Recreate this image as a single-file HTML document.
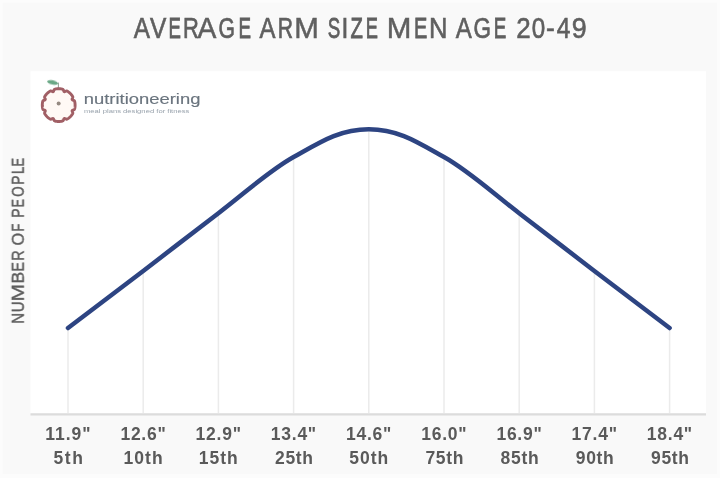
<!DOCTYPE html>
<html><head><meta charset="utf-8"><style>
html,body{margin:0;padding:0;width:720px;height:478px;overflow:hidden;background:#fcfcfc}
svg{display:block}
text{font-family:"Liberation Sans",sans-serif}
</style></head><body>
<svg width="720" height="478" viewBox="0 0 720 478">
<defs><filter id="bl" x="-20%" y="-20%" width="140%" height="140%"><feGaussianBlur stdDeviation="0.45"/></filter><filter id="tb" x="-5%" y="-20%" width="110%" height="140%"><feGaussianBlur stdDeviation="0.35"/></filter></defs>
<rect x="0" y="0" width="720" height="478" fill="#fcfcfc"/>
<rect x="2.5" y="2.5" width="714.5" height="471.5" fill="#f9f9f9"/>
<rect x="30.5" y="71.2" width="675.5" height="342.1" fill="#ffffff"/>
<g stroke="#ebebeb" stroke-width="1.5"><line x1="68.0" y1="328.0" x2="68.0" y2="413" /><line x1="143.2" y1="271.0" x2="143.2" y2="413" /><line x1="218.4" y1="213.2" x2="218.4" y2="413" /><line x1="293.6" y1="157.1" x2="293.6" y2="413" /><line x1="368.8" y1="129.2" x2="368.8" y2="413" /><line x1="444.0" y1="157.1" x2="444.0" y2="413" /><line x1="519.2" y1="213.2" x2="519.2" y2="413" /><line x1="594.4" y1="271.0" x2="594.4" y2="413" /><line x1="669.6" y1="328.0" x2="669.6" y2="413" /></g>
<line x1="30.5" y1="414.3" x2="706" y2="414.3" stroke="#dcdcdc" stroke-width="2.2"/>
<path d="M68.00,328.00 C80.53,318.50 118.13,290.13 143.20,271.00 C168.27,251.87 193.33,232.19 218.40,213.20 C243.47,194.21 268.53,171.05 293.60,157.05 C318.67,143.05 338.72,129.20 368.80,129.20 C398.88,129.20 418.93,143.05 444.00,157.05 C469.07,171.05 494.13,194.21 519.20,213.20 C544.27,232.19 569.33,251.87 594.40,271.00 C619.47,290.13 657.07,318.50 669.60,328.00" fill="none" stroke="#2d4482" stroke-width="4.5" stroke-linecap="round"/>
<g fill="#5f5f5f" color="#5f5f5f" filter="url(#tb)"><text transform="matrix(0.8400,0,0,1,133.800,0)" x="0" y="37.7" font-size="29" stroke="currentColor" stroke-width="0.644">A</text><text transform="matrix(0.8450,0,0,1,150.000,0)" x="0" y="37.7" font-size="29" stroke="currentColor" stroke-width="0.639">V</text><text transform="matrix(0.6412,0,0,1,168.618,0)" x="0" y="37.7" font-size="29" stroke="currentColor" stroke-width="0.823">E</text><text transform="matrix(0.7556,0,0,1,183.089,0)" x="0" y="37.7" font-size="29" stroke="currentColor" stroke-width="0.720">R</text><text transform="matrix(0.9750,0,0,1,197.400,0)" x="0" y="37.7" font-size="29" stroke="currentColor" stroke-width="0.522">A</text><text transform="matrix(0.7300,0,0,1,218.570,0)" x="0" y="37.7" font-size="29" stroke="currentColor" stroke-width="0.743">G</text><text transform="matrix(0.6471,0,0,1,238.506,0)" x="0" y="37.7" font-size="29" stroke="currentColor" stroke-width="0.818">E</text><text transform="matrix(0.8250,0,0,1,259.400,0)" x="0" y="37.7" font-size="29" stroke="currentColor" stroke-width="0.658">A</text><text transform="matrix(0.7278,0,0,1,277.844,0)" x="0" y="37.7" font-size="29" stroke="currentColor" stroke-width="0.745">R</text><text transform="matrix(1.0190,0,0,1,294.262,0)" x="0" y="37.7" font-size="29" stroke="currentColor" stroke-width="0.483">M</text><text transform="matrix(0.6444,0,0,1,327.656,0)" x="0" y="37.7" font-size="29" stroke="currentColor" stroke-width="0.820">S</text><text transform="matrix(0.8500,0,0,1,341.600,0)" x="0" y="37.7" font-size="29" stroke="currentColor" stroke-width="0.635">I</text><text transform="matrix(0.7000,0,0,1,350.600,0)" x="0" y="37.7" font-size="29" stroke="currentColor" stroke-width="0.770">Z</text><text transform="matrix(0.6294,0,0,1,365.841,0)" x="0" y="37.7" font-size="29" stroke="currentColor" stroke-width="0.834">E</text><text transform="matrix(1.0190,0,0,1,386.862,0)" x="0" y="37.7" font-size="29" stroke="currentColor" stroke-width="0.483">M</text><text transform="matrix(0.6882,0,0,1,414.124,0)" x="0" y="37.7" font-size="29" stroke="currentColor" stroke-width="0.781">E</text><text transform="matrix(0.8824,0,0,1,428.935,0)" x="0" y="37.7" font-size="29" stroke="currentColor" stroke-width="0.606">N</text><text transform="matrix(0.8300,0,0,1,455.800,0)" x="0" y="37.7" font-size="29" stroke="currentColor" stroke-width="0.653">A</text><text transform="matrix(0.7750,0,0,1,473.525,0)" x="0" y="37.7" font-size="29" stroke="currentColor" stroke-width="0.703">G</text><text transform="matrix(0.6471,0,0,1,493.806,0)" x="0" y="37.7" font-size="29" stroke="currentColor" stroke-width="0.818">E</text><text transform="matrix(0.8929,0,0,1,516.207,0)" x="0" y="37.7" font-size="29" stroke="currentColor" stroke-width="0.596">2</text><text transform="matrix(0.8333,0,0,1,531.867,0)" x="0" y="37.7" font-size="29" stroke="currentColor" stroke-width="0.650">0</text><text transform="matrix(0.9125,0,0,1,545.887,0)" x="0" y="37.7" font-size="29" stroke="currentColor" stroke-width="0.579">-</text><text transform="matrix(0.8438,0,0,1,556.700,0)" x="0" y="37.7" font-size="29" stroke="currentColor" stroke-width="0.641">4</text><text transform="matrix(0.9286,0,0,1,571.871,0)" x="0" y="37.7" font-size="29" stroke="currentColor" stroke-width="0.564">9</text></g>
<g transform="translate(23.8,0) rotate(-90)" fill="#5c5c5c" color="#5c5c5c" filter="url(#tb)"><text transform="matrix(0.9400,0,0,1,-323.640,0)" x="0" y="0" font-size="16" stroke="currentColor" stroke-width="0.430">N</text><text transform="matrix(0.9400,0,0,1,-312.340,0)" x="0" y="0" font-size="16" stroke="currentColor" stroke-width="0.430">U</text><text transform="matrix(1.3083,0,0,1,-301.408,0)" x="0" y="0" font-size="16" stroke="currentColor" stroke-width="0.300">M</text><text transform="matrix(1.1000,0,0,1,-283.600,0)" x="0" y="0" font-size="16" stroke="currentColor" stroke-width="0.350">B</text><text transform="matrix(0.8800,0,0,1,-271.380,0)" x="0" y="0" font-size="16" stroke="currentColor" stroke-width="0.460">E</text><text transform="matrix(0.9000,0,0,1,-260.700,0)" x="0" y="0" font-size="16" stroke="currentColor" stroke-width="0.450">R</text><text transform="matrix(1.0167,0,0,1,-245.400,0)" x="0" y="0" font-size="16" stroke="currentColor" stroke-width="0.392">O</text><text transform="matrix(0.8000,0,0,1,-231.500,0)" x="0" y="0" font-size="16" stroke="currentColor" stroke-width="0.500">F</text><text transform="matrix(0.8778,0,0,1,-217.678,0)" x="0" y="0" font-size="16" stroke="currentColor" stroke-width="0.461">P</text><text transform="matrix(0.7600,0,0,1,-207.160,0)" x="0" y="0" font-size="16" stroke="currentColor" stroke-width="0.520">E</text><text transform="matrix(0.8333,0,0,1,-196.700,0)" x="0" y="0" font-size="16" stroke="currentColor" stroke-width="0.483">O</text><text transform="matrix(0.8667,0,0,1,-184.667,0)" x="0" y="0" font-size="16" stroke="currentColor" stroke-width="0.467">P</text><text transform="matrix(0.8250,0,0,1,-173.925,0)" x="0" y="0" font-size="16" stroke="currentColor" stroke-width="0.488">L</text><text transform="matrix(0.8000,0,0,1,-166.500,0)" x="0" y="0" font-size="16" stroke="currentColor" stroke-width="0.500">E</text></g>
<g fill="#5a5a5a" filter="url(#tb)"><text transform="matrix(1.0,0,0,1,45.200,0)" x="0" y="439.8" font-size="17.5" font-weight="bold" letter-spacing="1.000">11.9&quot;</text><text transform="matrix(1.0,0,0,1,53.600,0)" x="0" y="464" font-size="17.5" font-weight="bold" letter-spacing="1.500">5th</text><text transform="matrix(1.0,0,0,1,120.400,0)" x="0" y="439.8" font-size="17.5" font-weight="bold" letter-spacing="0.750">12.6&quot;</text><text transform="matrix(1.0,0,0,1,123.600,0)" x="0" y="464" font-size="17.5" font-weight="bold" letter-spacing="1.000">10th</text><text transform="matrix(1.0,0,0,1,195.600,0)" x="0" y="439.8" font-size="17.5" font-weight="bold" letter-spacing="0.750">12.9&quot;</text><text transform="matrix(1.0,0,0,1,198.800,0)" x="0" y="464" font-size="17.5" font-weight="bold" letter-spacing="1.000">15th</text><text transform="matrix(1.0,0,0,1,270.800,0)" x="0" y="439.8" font-size="17.5" font-weight="bold" letter-spacing="0.750">13.4&quot;</text><text transform="matrix(1.0,0,0,1,275.000,0)" x="0" y="464" font-size="17.5" font-weight="bold" letter-spacing="0.667">25th</text><text transform="matrix(1.0,0,0,1,346.000,0)" x="0" y="439.8" font-size="17.5" font-weight="bold" letter-spacing="0.750">14.6&quot;</text><text transform="matrix(1.0,0,0,1,349.200,0)" x="0" y="464" font-size="17.5" font-weight="bold" letter-spacing="1.000">50th</text><text transform="matrix(1.0,0,0,1,421.200,0)" x="0" y="439.8" font-size="17.5" font-weight="bold" letter-spacing="0.750">16.0&quot;</text><text transform="matrix(1.0,0,0,1,425.400,0)" x="0" y="464" font-size="17.5" font-weight="bold" letter-spacing="0.667">75th</text><text transform="matrix(1.0,0,0,1,496.400,0)" x="0" y="439.8" font-size="17.5" font-weight="bold" letter-spacing="0.750">16.9&quot;</text><text transform="matrix(1.0,0,0,1,500.600,0)" x="0" y="464" font-size="17.5" font-weight="bold" letter-spacing="0.667">85th</text><text transform="matrix(1.0,0,0,1,571.600,0)" x="0" y="439.8" font-size="17.5" font-weight="bold" letter-spacing="0.750">17.4&quot;</text><text transform="matrix(1.0,0,0,1,575.800,0)" x="0" y="464" font-size="17.5" font-weight="bold" letter-spacing="0.667">90th</text><text transform="matrix(1.0,0,0,1,646.800,0)" x="0" y="439.8" font-size="17.5" font-weight="bold" letter-spacing="0.750">18.4&quot;</text><text transform="matrix(1.0,0,0,1,651.000,0)" x="0" y="464" font-size="17.5" font-weight="bold" letter-spacing="0.667">95th</text></g>
<g>
<ellipse cx="52.6" cy="82.4" rx="5.5" ry="2.1" fill="#6aa886" filter="url(#bl)" transform="rotate(12 52.6 82.4)"/>
<line x1="58.4" y1="82.6" x2="58.4" y2="88.5" stroke="#7f9484" stroke-width="0.9"/>
<path d="M58.70,88.70 L59.13,88.71 L59.56,88.72 L59.99,88.75 L60.41,88.79 L60.84,88.84 L61.27,88.90 L61.69,88.97 L62.11,89.06 L62.52,89.17 L62.91,89.37 L63.25,89.74 L63.52,90.28 L63.73,90.89 L63.95,91.41 L64.25,91.70 L64.66,91.71 L65.19,91.49 L65.78,91.21 L66.34,91.02 L66.84,91.00 L67.26,91.13 L67.63,91.35 L67.99,91.58 L68.34,91.83 L68.68,92.09 L69.02,92.35 L69.35,92.63 L69.67,92.91 L69.99,93.20 L70.30,93.50 L70.60,93.81 L70.89,94.13 L71.17,94.45 L71.45,94.78 L71.71,95.12 L71.97,95.46 L72.22,95.81 L72.45,96.17 L72.67,96.54 L72.80,96.96 L72.78,97.46 L72.59,98.02 L72.31,98.61 L72.09,99.14 L72.10,99.55 L72.39,99.85 L72.91,100.07 L73.52,100.28 L74.06,100.55 L74.43,100.89 L74.63,101.28 L74.74,101.69 L74.83,102.11 L74.90,102.53 L74.96,102.96 L75.01,103.39 L75.05,103.81 L75.08,104.24 L75.09,104.67 L75.10,105.10 L75.09,105.53 L75.08,105.96 L75.05,106.39 L75.01,106.81 L74.96,107.24 L74.90,107.67 L74.83,108.09 L74.74,108.51 L74.63,108.92 L74.43,109.31 L74.06,109.65 L73.52,109.92 L72.91,110.13 L72.39,110.35 L72.10,110.65 L72.09,111.06 L72.31,111.59 L72.59,112.18 L72.78,112.74 L72.80,113.24 L72.67,113.66 L72.45,114.03 L72.22,114.39 L71.97,114.74 L71.71,115.08 L71.45,115.42 L71.17,115.75 L70.89,116.07 L70.60,116.39 L70.30,116.70 L69.99,117.00 L69.67,117.29 L69.35,117.57 L69.02,117.85 L68.68,118.11 L68.34,118.37 L67.99,118.62 L67.63,118.85 L67.26,119.07 L66.84,119.20 L66.34,119.18 L65.78,118.99 L65.19,118.71 L64.66,118.49 L64.25,118.50 L63.95,118.79 L63.73,119.31 L63.52,119.92 L63.25,120.46 L62.91,120.83 L62.52,121.03 L62.11,121.14 L61.69,121.23 L61.27,121.30 L60.84,121.36 L60.41,121.41 L59.99,121.45 L59.56,121.48 L59.13,121.49 L58.70,121.50 L58.27,121.49 L57.84,121.48 L57.41,121.45 L56.99,121.41 L56.56,121.36 L56.13,121.30 L55.71,121.23 L55.29,121.14 L54.88,121.03 L54.49,120.83 L54.15,120.46 L53.88,119.92 L53.67,119.31 L53.45,118.79 L53.15,118.50 L52.74,118.49 L52.21,118.71 L51.62,118.99 L51.06,119.18 L50.56,119.20 L50.14,119.07 L49.77,118.85 L49.41,118.62 L49.06,118.37 L48.72,118.11 L48.38,117.85 L48.05,117.57 L47.73,117.29 L47.41,117.00 L47.10,116.70 L46.80,116.39 L46.51,116.07 L46.23,115.75 L45.95,115.42 L45.69,115.08 L45.43,114.74 L45.18,114.39 L44.95,114.03 L44.73,113.66 L44.60,113.24 L44.62,112.74 L44.81,112.18 L45.09,111.59 L45.31,111.06 L45.30,110.65 L45.01,110.35 L44.49,110.13 L43.88,109.92 L43.34,109.65 L42.97,109.31 L42.77,108.92 L42.66,108.51 L42.57,108.09 L42.50,107.67 L42.44,107.24 L42.39,106.81 L42.35,106.39 L42.32,105.96 L42.31,105.53 L42.30,105.10 L42.31,104.67 L42.32,104.24 L42.35,103.81 L42.39,103.39 L42.44,102.96 L42.50,102.53 L42.57,102.11 L42.66,101.69 L42.77,101.28 L42.97,100.89 L43.34,100.55 L43.88,100.28 L44.49,100.07 L45.01,99.85 L45.30,99.55 L45.31,99.14 L45.09,98.61 L44.81,98.02 L44.62,97.46 L44.60,96.96 L44.73,96.54 L44.95,96.17 L45.18,95.81 L45.43,95.46 L45.69,95.12 L45.95,94.78 L46.23,94.45 L46.51,94.13 L46.80,93.81 L47.10,93.50 L47.41,93.20 L47.73,92.91 L48.05,92.63 L48.38,92.35 L48.72,92.09 L49.06,91.83 L49.41,91.58 L49.77,91.35 L50.14,91.13 L50.56,91.00 L51.06,91.02 L51.62,91.21 L52.21,91.49 L52.74,91.71 L53.15,91.70 L53.45,91.41 L53.67,90.89 L53.88,90.28 L54.15,89.74 L54.49,89.37 L54.88,89.17 L55.29,89.06 L55.71,88.97 L56.13,88.90 L56.56,88.84 L56.99,88.79 L57.41,88.75 L57.84,88.72 L58.27,88.71Z" fill="#fff9f5" stroke="#a15e65" stroke-width="2.9" stroke-linejoin="round" filter="url(#bl)"/>
<circle cx="58.65" cy="103.5" r="2.0" fill="#958a82" filter="url(#bl)"/>
</g>
<g fill="#6a747e" color="#6a747e" filter="url(#tb)"><text transform="matrix(1.0,0,0,1,83.800,0)" x="0" y="104.0" font-size="14.8" font-weight="normal" stroke="currentColor" stroke-width="0.15" textLength="116.600" lengthAdjust="spacingAndGlyphs">nutritioneering</text></g>
<g fill="#98a2ac" filter="url(#tb)"><text transform="matrix(1.0,0,0,1,84.000,0)" x="0" y="113.0" font-size="5.2" font-weight="normal" textLength="105.400" lengthAdjust="spacingAndGlyphs">meal plans designed for fitness</text></g>
</svg>
</body></html>
